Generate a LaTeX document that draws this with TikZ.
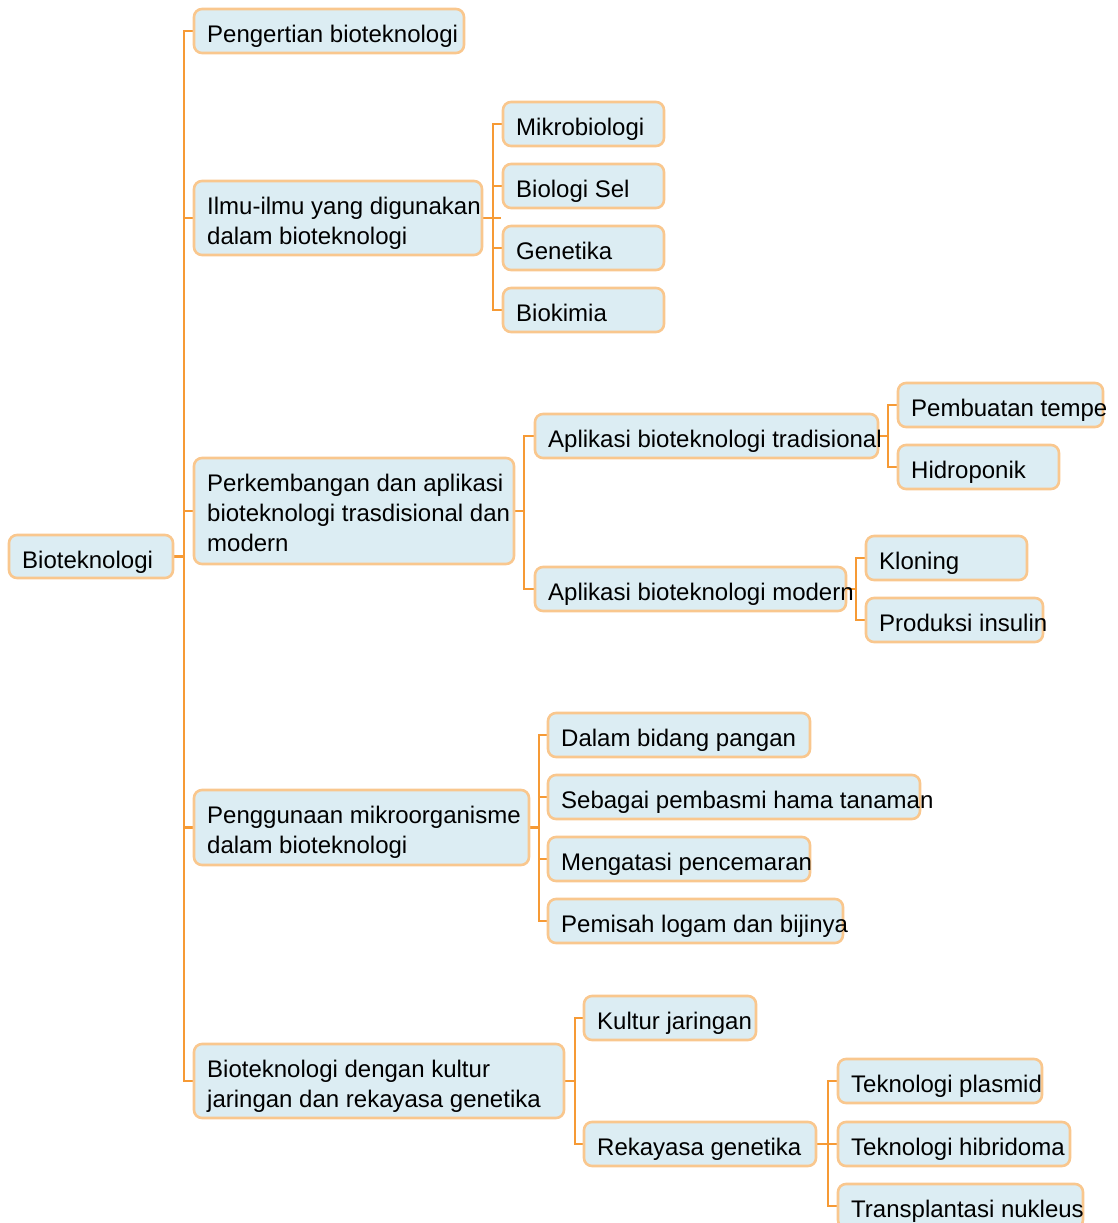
\documentclass[tikz,border=0pt]{standalone}
\usepackage{fontspec}
\setmainfont{Liberation Sans}
\usetikzlibrary{backgrounds}
\definecolor{boxfill}{HTML}{DCEDF3}
\definecolor{boxline}{HTML}{F9C78E}
\definecolor{connline}{HTML}{F69A35}
\tikzset{
  boxst/.style={draw=boxline, fill=boxfill, line width=2.6pt, rounded corners=8pt, rectangle, inner sep=0pt},
  txtst/.style={inner sep=0pt, align=left, font=\fontsize{24}{30}\selectfont, text=black},
  conn/.style={draw=connline, line width=2.8pt},
}
\newcommand\tbox[6]{%
  \node[boxst, minimum width={#4pt-#2pt}, minimum height={#5pt-#3pt}] (#1) at ({(#2+#4)/2},{(#3+#5)/2}) {};
  \node[txtst, anchor=north west] (#1-t) at (#2+13,#3+12) {\strut #6};
}
\begin{document}
\begin{tikzpicture}[x=1pt,y=-1pt]
\useasboundingbox (0,0) rectangle (1117,1223);
\coordinate (b0) at (184,0);
\coordinate (b1) at (493,0);
\coordinate (b2) at (524,0);
\coordinate (b3) at (888,0);
\coordinate (b4) at (856,0);
\coordinate (b5) at (539,0);
\coordinate (b6) at (575,0);
\coordinate (b7) at (828,0);
% boxes
\tbox{root}{9}{535}{173}{578}{Bioteknologi}
\tbox{a}{194}{9}{464}{53}{Pengertian bioteknologi}
\tbox{b}{194}{181}{482}{255}{Ilmu-ilmu yang digunakan\\dalam bioteknologi}
\tbox{b1c}{503}{102}{664}{146}{Mikrobiologi}
\tbox{b2c}{503}{164}{664}{208}{Biologi Sel}
\tbox{b3c}{503}{226}{664}{270}{Genetika}
\tbox{b4c}{503}{288}{664}{332}{Biokimia}
\tbox{c}{194}{458}{514}{564}{Perkembangan dan aplikasi\\bioteknologi trasdisional dan\\modern}
\tbox{ct}{535}{414}{878}{458}{Aplikasi bioteknologi tradisional}
\tbox{ct1}{898}{383}{1103}{427}{Pembuatan tempe}
\tbox{ct2}{898}{445}{1059}{489}{Hidroponik}
\tbox{cm}{535}{567}{846}{611}{Aplikasi bioteknologi modern}
\tbox{cm1}{866}{536}{1027}{580}{Kloning}
\tbox{cm2}{866}{598}{1043}{642}{Produksi insulin}
\tbox{d}{194}{790}{529}{865}{Penggunaan mikroorganisme\\dalam bioteknologi}
\tbox{d1}{548}{713}{810}{757}{Dalam bidang pangan}
\tbox{d2}{548}{775}{920}{819}{Sebagai pembasmi hama tanaman}
\tbox{d3}{548}{837}{810}{881}{Mengatasi pencemaran}
\tbox{d4}{548}{899}{843}{943}{Pemisah logam dan bijinya}
\tbox{e}{194}{1044}{564}{1118}{Bioteknologi dengan kultur\\jaringan dan rekayasa genetika}
\tbox{e1}{584}{996}{756}{1040}{Kultur jaringan}
\tbox{e2}{584}{1122}{816}{1166}{Rekayasa genetika}
\tbox{e21}{838}{1059}{1042}{1103}{Teknologi plasmid}
\tbox{e22}{838}{1122}{1070}{1166}{Teknologi hibridoma}
\tbox{e23}{838}{1184}{1083}{1228}{Transplantasi nukleus}
% connectors
\begin{scope}[on background layer]
\foreach \ch in {a,b,c,d,e}{\draw[conn] (root.east) -- (root.east -| b0) |- (\ch.west);}
\foreach \ch in {b1c,b2c,b3c,b4c}{\draw[conn] (b.east) -- (b.east -| b1) |- (\ch.west);}
\draw[conn] (b.east) -- ([xshift=8pt]b.east -| b1);
\foreach \ch in {ct,cm}{\draw[conn] (c.east) -- (c.east -| b2) |- (\ch.west);}
\foreach \ch in {ct1,ct2}{\draw[conn] (ct.east) -- (ct.east -| b3) |- (\ch.west);}
\foreach \ch in {cm1,cm2}{\draw[conn] (cm.east) -- (cm.east -| b4) |- (\ch.west);}
\foreach \ch in {d1,d2,d3,d4}{\draw[conn] (d.east) -- (d.east -| b5) |- (\ch.west);}
\foreach \ch in {e1,e2}{\draw[conn] (e.east) -- (e.east -| b6) |- (\ch.west);}
\foreach \ch in {e21,e22,e23}{\draw[conn] (e2.east) -- (e2.east -| b7) |- (\ch.west);}
\draw[conn] (e2.east) -- ([xshift=6pt]e2.east -| b7);
\end{scope}
\end{tikzpicture}
\end{document}
